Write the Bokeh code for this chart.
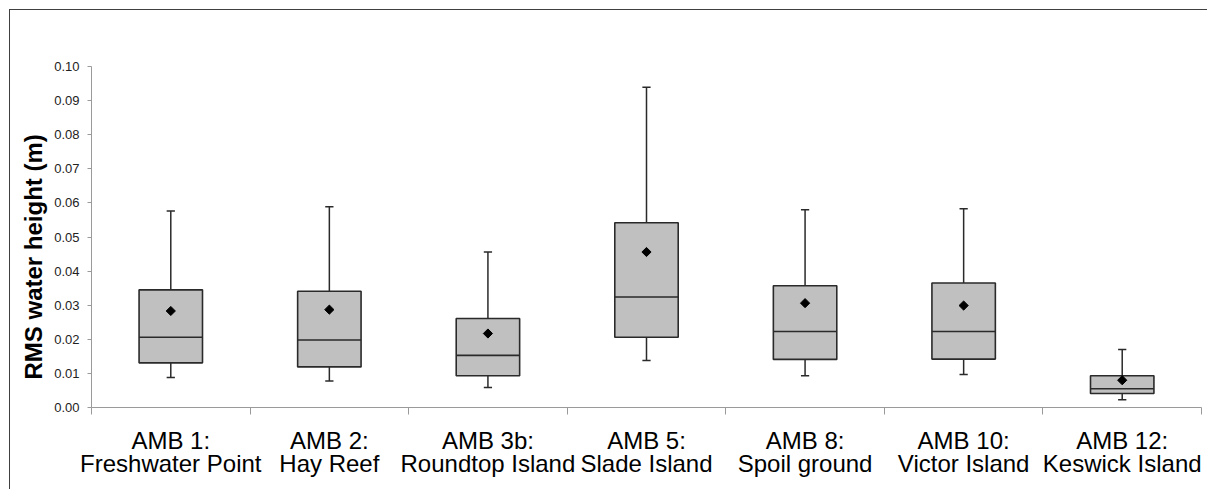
import numpy as np
from bokeh.plotting import figure
from bokeh.models import Range1d, FixedTicker, LinearAxis, Title, ColumnDataSource
from bokeh.embed import file_html
from bokeh.resources import INLINE

# ---- data ----
site_line1 = ["AMB 1:", "AMB 2:", "AMB 3b:", "AMB 5:", "AMB 8:", "AMB 10:", "AMB 12:"]
site_line2 = ["Freshwater Point", "Hay Reef", "Roundtop Island", "Slade Island",
              "Spoil ground", "Victor Island", "Keswick Island"]
whisker_low = [0.0088, 0.0078, 0.0059, 0.0138, 0.0093, 0.0097, 0.0023]
q1 = [0.0131, 0.0119, 0.0093, 0.0206, 0.0141, 0.0142, 0.0041]
median = [0.0206, 0.0198, 0.0153, 0.0324, 0.0223, 0.0223, 0.0055]
q3 = [0.0345, 0.0341, 0.0261, 0.0542, 0.0357, 0.0365, 0.0093]
whisker_high = [0.0576, 0.0589, 0.0456, 0.0939, 0.0580, 0.0583, 0.0170]
mean = [0.0283, 0.0287, 0.0217, 0.0456, 0.0306, 0.0299, 0.0080]
y_ticks = [0.00, 0.01, 0.02, 0.03, 0.04, 0.05, 0.06, 0.07, 0.08, 0.09, 0.10]
y_tick_labels = ["0.00", "0.01", "0.02", "0.03", "0.04", "0.05", "0.06", "0.07", "0.08", "0.09", "0.10"]
y_title = "RMS water height (m)"

n = len(site_line1)
xc = [i + 0.5 for i in range(n)]
BOX_HALF = 0.2
CAP_HALF = 0.026

src = ColumnDataSource(dict(
    x=xc, xl=[v - BOX_HALF for v in xc], xr=[v + BOX_HALF for v in xc],
    cl=[v - CAP_HALF for v in xc], cr=[v + CAP_HALF for v in xc],
    wlo=whisker_low, q1=q1, med=median, q3=q3, whi=whisker_high, mean=mean,
))

FONT = "Liberation Sans"

p = figure(width=1198, height=480, output_backend="svg", toolbar_location=None,
           x_range=Range1d(0, n), y_range=Range1d(0, 0.10),
           min_border_left=81, min_border_right=7, min_border_top=56, min_border_bottom=83)
p.styles = {"margin-left": "9px", "margin-top": "9px",
            "border-left": "1px solid #404040", "border-top": "1px solid #404040"}
p.outline_line_color = None
p.grid.visible = False
p.background_fill_color = "white"
p.border_fill_color = "white"

EDGE = "#2a2a2a"
# whiskers
p.segment(x0="x", y0="q3", x1="x", y1="whi", source=src, line_color=EDGE, line_width=1.5)
p.segment(x0="x", y0="wlo", x1="x", y1="q1", source=src, line_color=EDGE, line_width=1.5)
p.segment(x0="cl", y0="whi", x1="cr", y1="whi", source=src, line_color=EDGE, line_width=1.5)
p.segment(x0="cl", y0="wlo", x1="cr", y1="wlo", source=src, line_color=EDGE, line_width=1.5)
# boxes
p.vbar(x="x", width=2 * BOX_HALF, bottom="q1", top="q3", source=src,
       fill_color="#c0c0c0", line_color=EDGE, line_width=1.6)
p.segment(x0="xl", y0="med", x1="xr", y1="med", source=src, line_color=EDGE, line_width=1.6)
# means
p.scatter(x="x", y="mean", source=src, marker="square", angle=np.pi / 4, size=6.5,
          fill_color="black", line_color="black")

AXIS_COLOR = "#9a9a9a"
# y axis
ya = p.yaxis[0]
ya.ticker = FixedTicker(ticks=y_ticks, minor_ticks=[])
ya.major_label_overrides = {t: l for t, l in zip(y_ticks, y_tick_labels)}
ya.axis_line_color = AXIS_COLOR
ya.major_tick_line_color = AXIS_COLOR
ya.major_tick_out = 4
ya.major_tick_in = 0
ya.minor_tick_line_color = None
ya.major_label_standoff = 8
ya.major_label_text_font = FONT
ya.major_label_text_font_size = "13px"
ya.major_label_text_color = "#222222"

p.add_layout(Title(text=y_title, text_font=FONT, text_font_size="24px",
                   text_font_style="bold", text_color="black", align="left",
                   offset=28, standoff=10), "left")

# x axis: boundary ticks as minor ticks, first label line
xa = p.xaxis[0]
xa.ticker = FixedTicker(ticks=xc, minor_ticks=list(range(n + 1)))
xa.major_label_overrides = {t: l for t, l in zip(xc, site_line1)}
xa.axis_line_color = AXIS_COLOR
xa.major_tick_line_color = None
xa.major_tick_out = 0
xa.major_tick_in = 0
xa.minor_tick_line_color = AXIS_COLOR
xa.minor_tick_out = 7
xa.minor_tick_in = 0
xa.major_label_standoff = 12
xa.major_label_text_font = FONT
xa.major_label_text_font_size = "24px"
xa.major_label_text_color = "black"

xb = LinearAxis(ticker=FixedTicker(ticks=xc, minor_ticks=[]),
                major_label_overrides={t: l for t, l in zip(xc, site_line2)})
xb.axis_line_color = None
xb.major_tick_line_color = None
xb.minor_tick_line_color = None
xb.major_tick_out = 0
xb.major_tick_in = 0
xb.major_label_standoff = -7
xb.major_label_text_font = FONT
xb.major_label_text_font_size = "24px"
xb.major_label_text_color = "black"
p.add_layout(xb, "below")

open("out.html", "w").write(file_html(p, INLINE))
